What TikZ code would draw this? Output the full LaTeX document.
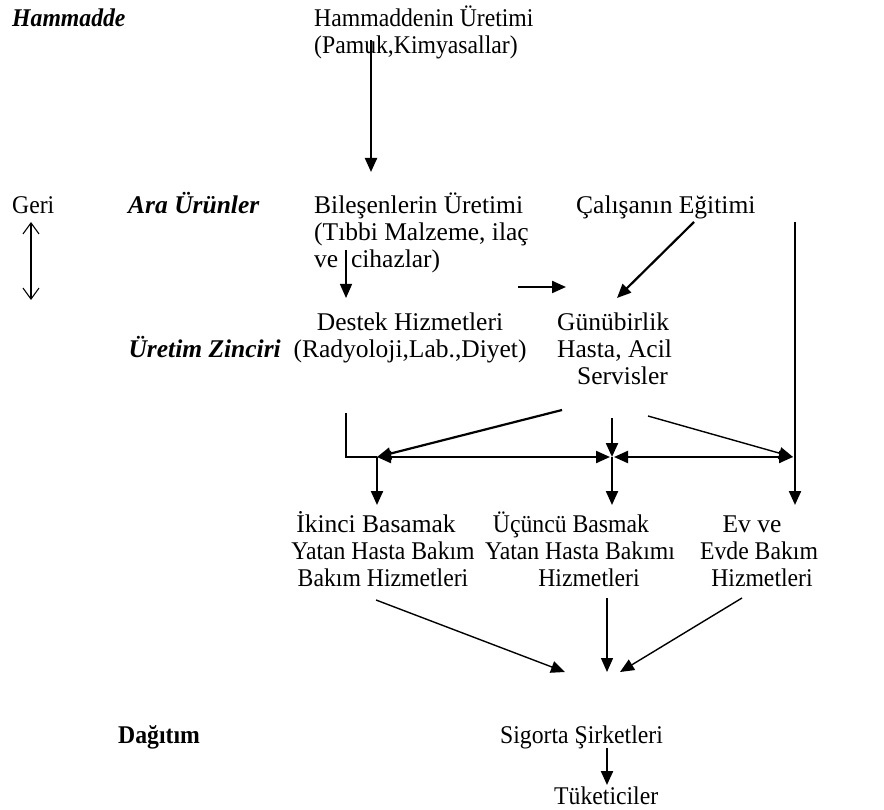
\documentclass[tikz,border=0pt]{standalone}
\usepackage{fontspec}
\setmainfont{Liberation Serif}[FakeStretch=0.93]
\newfontfamily\widefont{Liberation Serif}
\usetikzlibrary{arrows.meta}
\newcommand{\fl}{\rule{0pt}{24pt}}
\begin{document}
\begin{tikzpicture}[x=1pt,y=-1pt,
  txt/.style={inner sep=0pt, font=\fontsize{25.5}{27}\selectfont},
  wtxt/.style={inner sep=0pt, font=\fontsize{25.5}{27}\selectfont\widefont},
  lbl/.style={inner sep=0pt, font=\fontsize{25.5}{27}\selectfont\bfseries\itshape},
  wlbl/.style={inner sep=0pt, font=\fontsize{25.5}{27}\selectfont\widefont\bfseries\itshape},
  lblb/.style={inner sep=0pt, font=\fontsize{25.5}{27}\selectfont\bfseries},
  tip/.style={-{Triangle[length=14pt,width=12pt]}},
  heavy/.style={line width=2.2pt, tip},
  light/.style={line width=1.4pt, tip},
  plain/.style={line width=1.4pt},
  both/.style={line width=2.2pt, {Triangle[length=14pt,width=12pt]}-{Triangle[length=14pt,width=12pt]}},
  geriarr/.style={line width=1.1pt, {Straight Barb[length=11pt,width=16pt]}-{Straight Barb[length=11pt,width=16pt]}}
]
\useasboundingbox (0,0) rectangle (884,810);

% texts (baseline = north + 24)
\node[lbl, anchor=north west] (hammadde) at (12,2) {\fl Hammadde};
\node[txt, anchor=north west, align=left] (hu) at (314,2) {\fl Hammaddenin Üretimi\\(Pamuk,Kimyasallar)};
\node[txt, anchor=north west] (geri) at (12,189) {\fl Geri};
\node[wlbl, anchor=north west] (ara) at (128,189) {\fl Ara Ürünler};
\node[wtxt, anchor=north west, align=left] (bu) at (314,189) {\fl Bileşenlerin Üretimi\\(Tıbbi Malzeme, ilaç\\ve\ \ cihazlar)};
\node[wtxt, anchor=north west] (ce) at (576,189) {\fl Çalışanın Eğitimi};
\node[wtxt, anchor=north, align=center] (dh) at (410,306) {\fl Destek Hizmetleri\\(Radyoloji,Lab.,Diyet)};
\node[wlbl, anchor=north east] (uz) at (281,333) {\fl Üretim Zinciri};
\node[wtxt, anchor=north west, align=left] (gh) at (557,306) {\fl Günübirlik\\Hasta, Acil\\\hspace*{20pt}Servisler};
\node[txt, anchor=north, align=center] (ib) at (383,508) {\fl {\widefont İkinci Basamak}\hspace*{14pt}\\Yatan Hasta Bakım\\Bakım Hizmetleri};
\node[txt, anchor=north, align=center] (ub) at (580,508) {\fl Üçüncü Basmak\hspace*{18pt}\\Yatan Hasta Bakımı\\\hspace*{18pt}Hizmetleri};
\node[txt, anchor=north, align=center] (eb) at (759,508) {\fl {\widefont Ev ve}\hspace*{14pt}\\Evde Bakım\\\hspace*{6pt}Hizmetleri};
\node[lblb, anchor=north west] (dag) at (118,719) {\fl Dağıtım};
\node[txt, anchor=north west] (sig) at (500,719) {\fl Sigorta Şirketleri};
\node[txt, anchor=north west] (tuk) at (554,780) {\fl Tüketiciler};

% connector end points
\coordinate (huS) at (371,40);
\coordinate (buN) at (371,172);
\coordinate (buS) at (346,250);
\coordinate (dhN) at (346,298);
\coordinate (dhE) at (518,287);
\coordinate (ghW) at (566,287);
\coordinate (ceS) at (694,222);
\coordinate (ghN) at (617,298);
\coordinate (ceR) at (795,222);
\coordinate (ebN) at (795,505);
\coordinate (geriT) at (31,222);
\coordinate (geriB) at (31,300);
\coordinate (dhS) at (346,413);
\coordinate (corner) at (346,457);
\coordinate (jL) at (377,457);
\coordinate (jM) at (612,457);
\coordinate (jR) at (795,457);
\coordinate (ghSW) at (562,410);
\coordinate (ghS) at (612,418);
\coordinate (ghSE) at (648,416);
\coordinate (ibN) at (377,505);
\coordinate (ubN) at (612,505);
\coordinate (ibS) at (376,600);
\coordinate (ubS) at (607,598);
\coordinate (ebS) at (742,598);
\coordinate (sigL) at (565,672);
\coordinate (sigN) at (607,672);
\coordinate (sigR) at (620,672);
\coordinate (sigS) at (607,748);
\coordinate (tukN) at (607,785);

% connectors
\draw[heavy] (huS) -- (buN);
\draw[light] (buS) -- (dhN);
\draw[heavy] (dhE) -- (ghW);
\draw[heavy] (ceS) -- (ghN);
\draw[heavy] (ceR) -- (ebN);
\draw[geriarr] (geriT) -- (geriB);
\draw[plain] (dhS) -- (corner) -- (jL);
\draw[both] (jL) -- ([xshift=-2pt]jM);
\draw[both] ([xshift=2pt]jM) -- ([xshift=-2pt]jR);
\draw[heavy] (ghSW) -- (jL);
\draw[heavy] (ghS) -- (jM);
\draw[light] (ghSE) -- ([xshift=-2pt]jR);
\draw[heavy] (jL) -- (ibN);
\draw[heavy] (jM) -- (ubN);
\draw[light] (ibS) -- (sigL);
\draw[light] (ubS) -- (sigN);
\draw[light] (ebS) -- (sigR);
\draw[heavy] (sigS) -- (tukN);
\end{tikzpicture}
\end{document}
